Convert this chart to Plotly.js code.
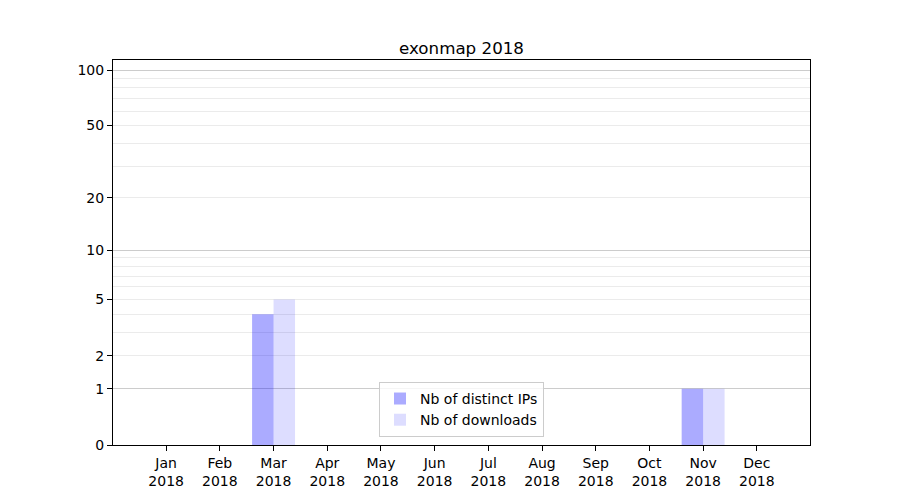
<!DOCTYPE html>
<html>
<head>
<meta charset="utf-8">
<script src="https://cdn.plot.ly/plotly-3.0.1.min.js"></script>
<style>html,body{margin:0;padding:0;background:#fff;}#chart{width:900px;height:500px;}</style>
</head>
<body>
<div id="chart"></div>
<script>
// Data
const months = ["Jan<br>2018","Feb<br>2018","Mar<br>2018","Apr<br>2018","May<br>2018","Jun<br>2018",
                "Jul<br>2018","Aug<br>2018","Sep<br>2018","Oct<br>2018","Nov<br>2018","Dec<br>2018"];
const distinctIPs = [0,0,4,0,0,0,0,0,0,0,1,0];
const downloads   = [0,0,5,0,0,0,0,0,0,0,1,0];
// y axis is log(1 + value): tick labels in value space
const yTickValues = [0,1,2,5,10,20,50,100];
const yMinorValues = [3,4,6,7,8,9,30,40,60,70,80,90];
const yMajorGrid = [1,10,100];

const shift = v => v + 1;
const font = "DejaVu Sans, sans-serif";

const traces = [
  {type:'bar', name:'Nb of distinct IPs', x:months, y:distinctIPs, base:1,
   marker:{color:'rgba(0,0,255,0.33)', line:{width:0}}, hovertemplate:'%{x}: %{y}<extra></extra>'},
  {type:'bar', name:'Nb of downloads', x:months, y:downloads, base:1,
   marker:{color:'rgba(0,0,255,0.135)', line:{width:0}}, hovertemplate:'%{x}: %{y}<extra></extra>'},
  // helper trace so the overlay axis (darker major grid) is drawn
  {type:'scatter', mode:'none', x:[months[0]], y:[shift(0)], yaxis:'y2', showlegend:false, hoverinfo:'skip'}
];

const layout = {
  width:900, height:500,
  margin:{l:113, r:90, t:60, b:55},
  paper_bgcolor:'#fff', plot_bgcolor:'#fff',
  font:{family:font, size:14, color:'#000'},
  title:{text:'exonmap 2018', font:{family:font, size:16.7, color:'#000'},
         x:0.5, xref:'paper', xanchor:'center', y:1, yref:'paper', yanchor:'bottom', pad:{b:6}},
  barmode:'group', bargap:0.2, bargroupgap:0,
  showlegend:true,
  legend:{x:0.5, xanchor:'center', y:0.021, yanchor:'bottom', bgcolor:'rgba(255,255,255,0.8)',
          bordercolor:'#cccccc', borderwidth:1, font:{family:font, size:14}, tracegroupgap:2},
  xaxis:{type:'category', range:[-0.99, 11.99], showgrid:false, zeroline:false,
         showline:true, mirror:true, linecolor:'#000', linewidth:1,
         ticks:'outside', ticklen:5, tickcolor:'#000', tickfont:{family:font, size:14}},
  yaxis:{type:'log', range:[0, 2.058], zeroline:false,
         showline:true, mirror:true, linecolor:'#000', linewidth:1,
         tickmode:'array', tickvals:yTickValues.map(shift), ticktext:yTickValues.map(String),
         ticks:'outside', ticklen:5, tickcolor:'#000', tickfont:{family:font, size:14},
         showgrid:true, gridcolor:'#ebebeb', gridwidth:1,
         minor:{tickmode:'array', tickvals:yMinorValues.map(shift), showgrid:true, gridcolor:'#ebebeb', gridwidth:1, ticks:''}},
  yaxis2:{type:'log', range:[0, 2.058], overlaying:'y', side:'left', zeroline:false, showline:false,
          tickmode:'array', tickvals:yMajorGrid.map(shift), showticklabels:false, ticks:'',
          showgrid:true, gridcolor:'#cccccc', gridwidth:1}
};

Plotly.newPlot('chart', traces, layout, {displayModeBar:false, staticPlot:true});
</script>
</body>
</html>
